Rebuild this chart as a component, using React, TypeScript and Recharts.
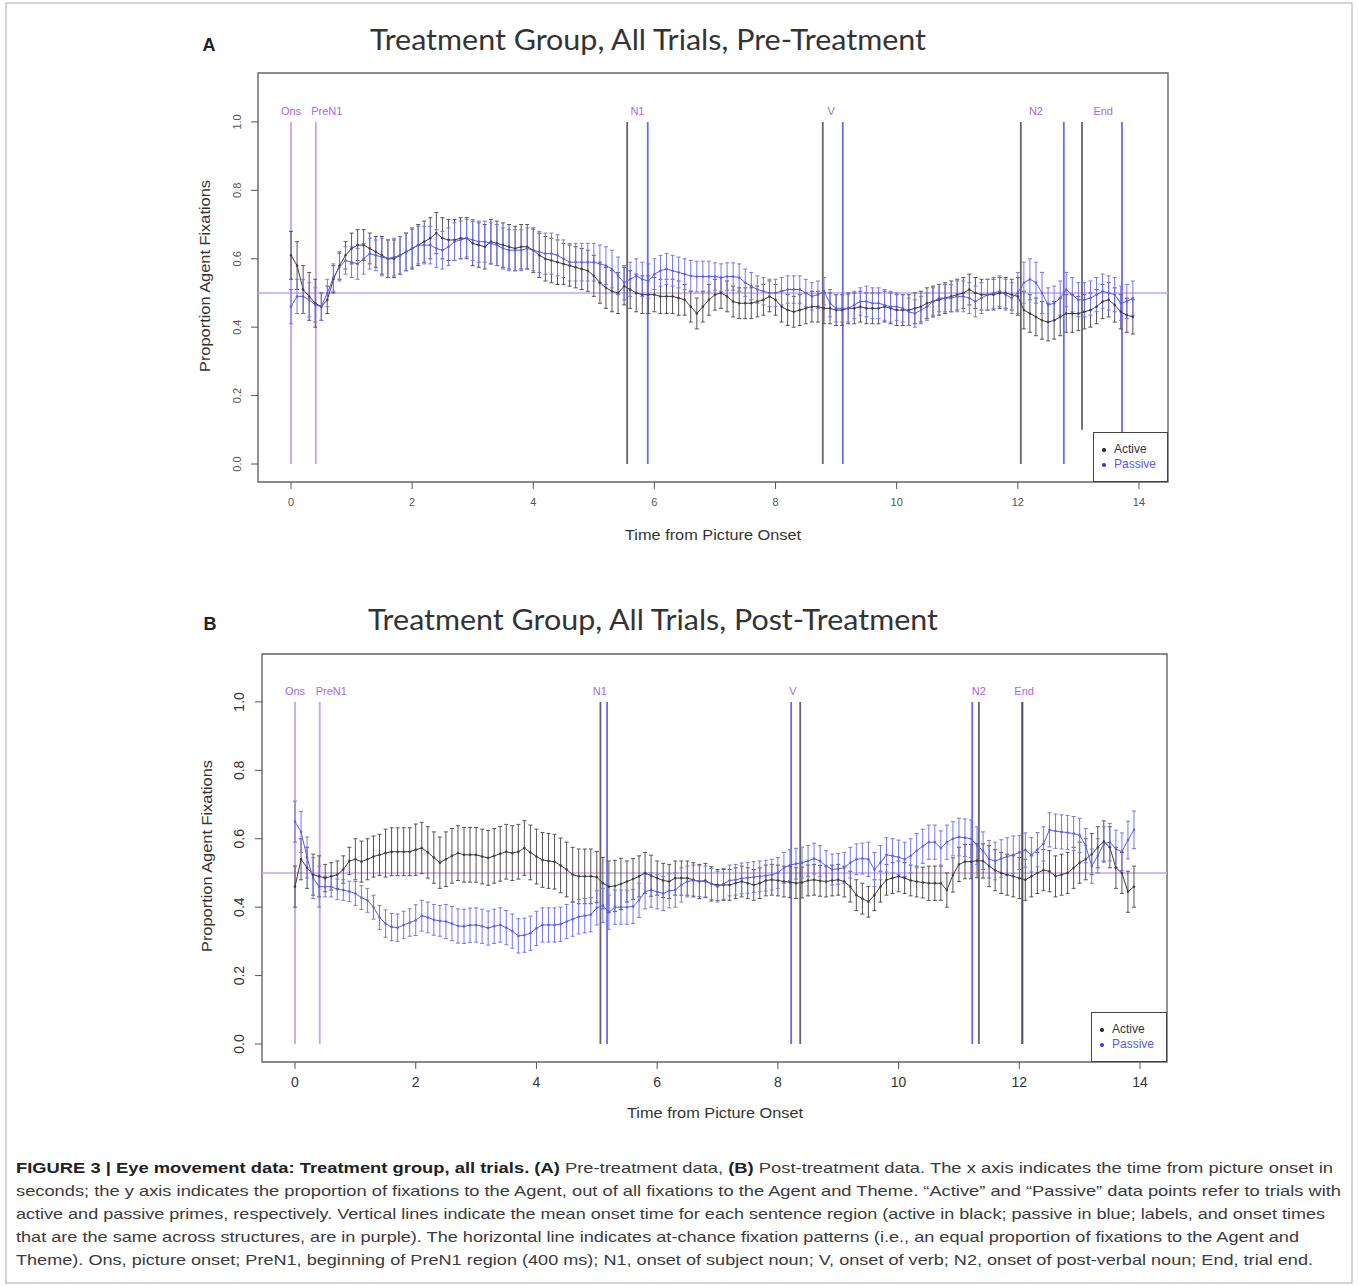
import React from "react";
import {
  LineChart,
  Line,
  XAxis,
  YAxis,
  ErrorBar,
  ReferenceLine,
  ReferenceArea,
  ReferenceDot,
} from "recharts";

// sample times (s from picture onset), 100 ms bins
const times = [
  0, 0.1, 0.2, 0.3, 0.4, 0.5, 0.6, 0.7, 0.8, 0.9,
  1, 1.1, 1.2, 1.3, 1.4, 1.5, 1.6, 1.7, 1.8, 1.9,
  2, 2.1, 2.2, 2.3, 2.4, 2.5, 2.6, 2.7, 2.8, 2.9,
  3, 3.1, 3.2, 3.3, 3.4, 3.5, 3.6, 3.7, 3.8, 3.9,
  4, 4.1, 4.2, 4.3, 4.4, 4.5, 4.6, 4.7, 4.8, 4.9,
  5, 5.1, 5.2, 5.3, 5.4, 5.5, 5.6, 5.7, 5.8, 5.9,
  6, 6.1, 6.2, 6.3, 6.4, 6.5, 6.6, 6.7, 6.8, 6.9,
  7, 7.1, 7.2, 7.3, 7.4, 7.5, 7.6, 7.7, 7.8, 7.9,
  8, 8.1, 8.2, 8.3, 8.4, 8.5, 8.6, 8.7, 8.8, 8.9,
  9, 9.1, 9.2, 9.3, 9.4, 9.5, 9.6, 9.7, 9.8, 9.9,
  10, 10.1, 10.2, 10.3, 10.4, 10.5, 10.6, 10.7, 10.8, 10.9,
  11, 11.1, 11.2, 11.3, 11.4, 11.5, 11.6, 11.7, 11.8, 11.9,
  12, 12.1, 12.2, 12.3, 12.4, 12.5, 12.6, 12.7, 12.8, 12.9,
  13, 13.1, 13.2, 13.3, 13.4, 13.5, 13.6, 13.7, 13.8, 13.9,
];

// panel A, pre-treatment
const preActive = [
  0.61, 0.58, 0.51, 0.49, 0.47, 0.46, 0.48, 0.54, 0.58, 0.61,
  0.63, 0.64, 0.64, 0.63, 0.62, 0.61, 0.6, 0.6, 0.61, 0.62,
  0.63, 0.64, 0.65, 0.66, 0.675, 0.66, 0.655, 0.655, 0.66, 0.66,
  0.645, 0.64, 0.635, 0.65, 0.645, 0.64, 0.635, 0.63, 0.635, 0.635,
  0.625, 0.61, 0.6, 0.595, 0.59, 0.585, 0.58, 0.575, 0.57, 0.565,
  0.55, 0.53, 0.515, 0.505, 0.5, 0.52, 0.51, 0.5, 0.495, 0.495,
  0.495, 0.49, 0.49, 0.49, 0.485, 0.48, 0.46, 0.44, 0.46, 0.48,
  0.495, 0.5, 0.49, 0.475, 0.47, 0.47, 0.47, 0.475, 0.48, 0.49,
  0.48, 0.46, 0.45, 0.445, 0.45, 0.455, 0.46, 0.46, 0.455, 0.455,
  0.45, 0.45, 0.455, 0.455, 0.46, 0.455, 0.455, 0.455, 0.46, 0.455,
  0.45, 0.45, 0.45, 0.455, 0.46, 0.47, 0.475, 0.48, 0.485, 0.49,
  0.495, 0.5, 0.51, 0.5, 0.495, 0.495, 0.495, 0.5, 0.5, 0.495,
  0.49, 0.45, 0.44, 0.43, 0.42, 0.415, 0.42, 0.43, 0.44, 0.44,
  0.44, 0.445, 0.45, 0.46, 0.475, 0.48, 0.465, 0.445, 0.435, 0.43,
];
const prePassive = [
  0.46, 0.49, 0.49, 0.48, 0.465, 0.46, 0.5, 0.545, 0.575, 0.595,
  0.59, 0.585, 0.6, 0.615, 0.61, 0.605, 0.6, 0.605, 0.61, 0.62,
  0.63, 0.64, 0.64, 0.64, 0.63, 0.625, 0.635, 0.65, 0.655, 0.66,
  0.655, 0.65, 0.65, 0.645, 0.64, 0.63, 0.625, 0.625, 0.625, 0.63,
  0.625, 0.62, 0.615, 0.615, 0.61, 0.6, 0.59, 0.59, 0.59, 0.59,
  0.59, 0.585, 0.58, 0.57, 0.55, 0.53, 0.54, 0.55, 0.54, 0.535,
  0.555, 0.565, 0.57, 0.565, 0.56, 0.555, 0.55, 0.548, 0.548, 0.548,
  0.548, 0.545, 0.548, 0.548, 0.545, 0.53, 0.52, 0.51, 0.505, 0.5,
  0.5, 0.505, 0.51, 0.51, 0.51, 0.5, 0.49, 0.495, 0.505, 0.47,
  0.455, 0.455, 0.455, 0.465, 0.475, 0.475, 0.47, 0.47, 0.465, 0.46,
  0.46, 0.455, 0.445, 0.44, 0.45, 0.46, 0.475, 0.485, 0.485, 0.485,
  0.49, 0.49, 0.485, 0.475, 0.485, 0.495, 0.5, 0.505, 0.495, 0.485,
  0.5, 0.53, 0.54, 0.53, 0.5, 0.465, 0.47, 0.485, 0.51, 0.495,
  0.48, 0.48, 0.485, 0.495, 0.505, 0.5, 0.495, 0.47, 0.475, 0.485,
];
// error bar half-widths, one value per 0.5 s window
const preActiveErr = [
  0.07, 0.04, 0.045, 0.055, 0.06, 0.06, 0.065, 0.065, 0.065, 0.06,
  0.06, 0.055, 0.05, 0.045, 0.045, 0.045, 0.045, 0.045, 0.045, 0.045,
  0.045, 0.045, 0.045, 0.045, 0.055, 0.055, 0.05, 0.05,
];
const prePassiveErr = [
  0.05, 0.04, 0.045, 0.055, 0.055, 0.055, 0.06, 0.06, 0.06, 0.055,
  0.055, 0.05, 0.045, 0.045, 0.04, 0.04, 0.04, 0.04, 0.04, 0.045,
  0.04, 0.04, 0.045, 0.045, 0.06, 0.05, 0.05, 0.05,
];

// panel B, post-treatment
const postActive = [
  0.46, 0.54, 0.515, 0.495, 0.49, 0.485, 0.49, 0.495, 0.51, 0.535,
  0.54, 0.533, 0.54, 0.548, 0.553, 0.558, 0.562, 0.562, 0.562, 0.562,
  0.568, 0.573, 0.56, 0.545, 0.53, 0.54, 0.55, 0.558, 0.553, 0.553,
  0.553, 0.548, 0.544, 0.55, 0.556, 0.562, 0.558, 0.562, 0.573, 0.56,
  0.548, 0.538, 0.535, 0.533, 0.522, 0.51, 0.495, 0.49, 0.49, 0.49,
  0.488, 0.47, 0.46, 0.462, 0.468, 0.475, 0.482, 0.49, 0.5, 0.492,
  0.485, 0.478, 0.475, 0.485, 0.485, 0.485, 0.48, 0.475, 0.478, 0.468,
  0.465, 0.465, 0.465, 0.47, 0.475, 0.47, 0.465, 0.47, 0.478, 0.48,
  0.478, 0.475, 0.473, 0.47, 0.472, 0.478, 0.48, 0.477, 0.475, 0.478,
  0.48, 0.475, 0.46, 0.435, 0.425, 0.416, 0.435, 0.46, 0.48, 0.485,
  0.49, 0.485, 0.478, 0.475, 0.472, 0.47, 0.47, 0.47, 0.45, 0.494,
  0.525, 0.533, 0.533, 0.536, 0.535, 0.52, 0.508, 0.5, 0.495, 0.49,
  0.485, 0.48, 0.49, 0.5, 0.508, 0.505, 0.49, 0.495, 0.5, 0.515,
  0.53, 0.54, 0.555, 0.575, 0.592, 0.575, 0.515, 0.5, 0.445, 0.46,
];
const postPassive = [
  0.65, 0.62, 0.545, 0.485, 0.46, 0.46, 0.46, 0.452, 0.45, 0.446,
  0.44, 0.428, 0.42, 0.4, 0.37, 0.352, 0.342, 0.34, 0.348, 0.355,
  0.362, 0.375, 0.37, 0.363, 0.36, 0.358, 0.352, 0.345, 0.344, 0.347,
  0.348, 0.344, 0.339, 0.344, 0.348, 0.34, 0.33, 0.316, 0.318, 0.324,
  0.338, 0.348, 0.348, 0.348, 0.35, 0.358, 0.365, 0.372, 0.375, 0.378,
  0.398, 0.405, 0.385, 0.4, 0.4, 0.4, 0.402, 0.42, 0.445, 0.45,
  0.445, 0.44, 0.448, 0.45, 0.465, 0.475, 0.478, 0.476, 0.475, 0.468,
  0.46, 0.468, 0.478, 0.48, 0.484, 0.486, 0.488, 0.49, 0.492, 0.495,
  0.5, 0.515, 0.523, 0.527, 0.53, 0.535, 0.542, 0.535, 0.52, 0.51,
  0.512, 0.515, 0.53, 0.54, 0.542, 0.54, 0.51, 0.53, 0.553, 0.55,
  0.546, 0.54, 0.55, 0.565, 0.578, 0.59, 0.59, 0.573, 0.59, 0.6,
  0.605, 0.603, 0.6, 0.58, 0.565, 0.54, 0.535, 0.542, 0.548, 0.553,
  0.56, 0.567, 0.553, 0.568, 0.585, 0.626, 0.622, 0.62, 0.618, 0.615,
  0.61, 0.58, 0.52, 0.55, 0.585, 0.59, 0.57, 0.562, 0.596, 0.626,
];
const postActiveErr = [
  0.06, 0.04, 0.06, 0.07, 0.075, 0.08, 0.08, 0.08, 0.08, 0.08,
  0.075, 0.06, 0.05, 0.05, 0.045, 0.045, 0.045, 0.045, 0.045, 0.045,
  0.045, 0.05, 0.05, 0.06, 0.06, 0.06, 0.06, 0.06,
];
const postPassiveErr = [
  0.06, 0.03, 0.035, 0.04, 0.045, 0.05, 0.05, 0.05, 0.05, 0.05,
  0.05, 0.05, 0.05, 0.045, 0.045, 0.045, 0.045, 0.045, 0.045, 0.05,
  0.05, 0.05, 0.055, 0.055, 0.05, 0.05, 0.05, 0.055,
];

// region onsets (s)
const regionNames = ["Ons", "PreN1", "N1", "V", "N2", "End"];
const preSharedOnsets = [0, 0.41];
const preActiveOnsets = [5.55, 8.78, 12.05, 13.06];
const prePassiveOnsets = [5.89, 9.11, 12.76, 13.72];
const preLabelTimes = [0, 0.59, 5.72, 8.92, 12.3, 13.41];
const postSharedOnsets = [0, 0.41];
const postActiveOnsets = [5.06, 8.37, 11.33, 12.05];
const postPassiveOnsets = [5.17, 8.22, 11.22, 12.05];
const postLabelTimes = [0, 0.6, 5.05, 8.25, 11.33, 12.08];

const chance = 0.5;
const xTicks = [0, 2, 4, 6, 8, 10, 12, 14];
const yTicks = [0, 0.2, 0.4, 0.6, 0.8, 1.0];

const captionLines = [
  "seconds; the y axis indicates the proportion of fixations to the Agent, out of all fixations to the Agent and Theme. \u201cActive\u201d and \u201cPassive\u201d data points refer to trials with",
  "active and passive primes, respectively. Vertical lines indicate the mean onset time for each sentence region (active in black; passive in blue; labels, and onset times",
  "that are the same across structures, are in purple). The horizontal line indicates at-chance fixation patterns (i.e., an equal proportion of fixations to the Agent and",
  "Theme). Ons, picture onset; PreN1, beginning of PreN1 region (400 ms); N1, onset of subject noun; V, onset of verb; N2, onset of post-verbal noun; End, trial end.",
];

const PURPLE_LINE = "#c8a2f2";
const PURPLE_TEXT = "#a968e6";
const BLACK = "#3c3c3c";
const BLUE = "#5b5bf2";
const FONT = "'Liberation Sans', Arial, sans-serif";

const panels = [
  {
    key: "A",
    left: 150,
    top: 60,
    margin: { top: 13, right: 22, left: 68, bottom: 28 },
    xDomain: [-0.545, 14.48],
    yDomain: [-0.0526, 1.143],
    active: preActive,
    passive: prePassive,
    activeErr: preActiveErr,
    passiveErr: prePassiveErr,
    shared: preSharedOnsets,
    activeOn: preActiveOnsets,
    passiveOn: prePassiveOnsets,
    labelTimes: preLabelTimes,
    activeLow: [0, 0, 0, 0.1],
    tickSize: 11,
    tickColor: "#555",
    yTickShift: 8,
  },
  {
    key: "B",
    left: 150,
    top: 640,
    margin: { top: 14, right: 23, left: 72, bottom: 28 },
    xDomain: [-0.547, 14.447],
    yDomain: [-0.0526, 1.14],
    active: postActive,
    passive: postPassive,
    activeErr: postActiveErr,
    passiveErr: postPassiveErr,
    shared: postSharedOnsets,
    activeOn: postActiveOnsets,
    passiveOn: postPassiveOnsets,
    labelTimes: postLabelTimes,
    activeLow: [0, 0, 0, 0],
    tickSize: 14,
    tickColor: "#333",
    yTickShift: 9,
  },
];

function Panel({ p }: { p: any }) {
  const rows = times.map((t, i) => ({
    t,
    act: p.active[i],
    actErr: p.activeErr[Math.floor(i / 5)],
    pas: p.passive[i],
    pasErr: p.passiveErr[Math.floor(i / 5)],
  }));

  const xTick = (props: any) => (
    <text
      x={props.x}
      y={props.y + (p.tickSize > 12 ? 16 : 15)}
      textAnchor="middle"
      fontSize={p.tickSize}
      fontFamily={FONT}
      fill={p.tickColor}
    >
      {props.payload.value}
    </text>
  );
  const yTick = (props: any) => {
    const cx = props.x - p.yTickShift;
    return (
      <text
        x={cx}
        y={props.y}
        transform={`rotate(-90 ${cx} ${props.y})`}
        textAnchor="middle"
        fontSize={p.tickSize}
        fontFamily={FONT}
        fill={p.tickColor}
      >
        {Number(props.payload.value).toFixed(1)}
      </text>
    );
  };

  return (
    <div style={{ position: "absolute", left: p.left, top: p.top }}>
      <LineChart width={1040} height={480} data={rows} margin={p.margin}>
        <XAxis
          type="number"
          dataKey="t"
          domain={p.xDomain}
          ticks={xTicks}
          interval={0}
          allowDataOverflow
          axisLine={false}
          tickSize={7}
          tickLine={{ stroke: "#555" }}
          height={30}
          tick={xTick}
        />
        <YAxis
          type="number"
          domain={p.yDomain}
          ticks={yTicks}
          interval={0}
          allowDataOverflow
          axisLine={false}
          tickSize={7}
          tickLine={{ stroke: "#555" }}
          width={40}
          tick={yTick}
        />
        <ReferenceLine y={chance} stroke={PURPLE_LINE} strokeWidth={1.5} />
        {p.shared.map((t: number, i: number) => (
          <ReferenceLine
            key={"s" + i}
            segment={[{ x: t, y: 0 }, { x: t, y: 1 }]}
            stroke={PURPLE_LINE}
            strokeWidth={1.8}
          />
        ))}
        {p.passiveOn.map((t: number, i: number) => (
          <ReferenceLine
            key={"p" + i}
            segment={[{ x: t, y: 0 }, { x: t, y: 1 }]}
            stroke="#6a6af0"
            strokeWidth={1.8}
          />
        ))}
        {p.activeOn.map((t: number, i: number) => (
          <ReferenceLine
            key={"a" + i}
            segment={[{ x: t, y: p.activeLow[i] }, { x: t, y: 1 }]}
            stroke="#4a4a4a"
            strokeOpacity={0.85}
            strokeWidth={1.8}
          />
        ))}
        <Line
          dataKey="act"
          type="linear"
          stroke={BLACK}
          strokeWidth={1}
          dot={{ r: 1, fill: BLACK, stroke: BLACK, strokeWidth: 0.6 }}
          isAnimationActive={false}
        >
          <ErrorBar dataKey="actErr" direction="y" width={2} stroke="#555" strokeWidth={1} isAnimationActive={false} />
        </Line>
        <Line
          dataKey="pas"
          type="linear"
          stroke={BLUE}
          strokeWidth={1}
          dot={{ r: 1, fill: BLUE, stroke: BLUE, strokeWidth: 0.6 }}
          isAnimationActive={false}
        >
          <ErrorBar dataKey="pasErr" direction="y" width={2} stroke="#7676f2" strokeWidth={1} isAnimationActive={false} />
        </Line>
        {regionNames.map((name, i) => (
          <ReferenceDot
            key={"l" + i}
            x={p.labelTimes[i]}
            y={1.032}
            r={0}
            shape={(s: any) => (
              <text
                x={s.cx}
                y={s.cy + 4}
                textAnchor="middle"
                fontSize={11}
                fontFamily={FONT}
                fill={PURPLE_TEXT}
              >
                {name}
              </text>
            )}
          />
        ))}
        <ReferenceArea
          x1={p.xDomain[0]}
          x2={p.xDomain[1]}
          y1={p.yDomain[0]}
          y2={p.yDomain[1]}
          fill="none"
          stroke="#666"
          strokeWidth={1.4}
        />
      </LineChart>
    </div>
  );
}

function LegendBox({ left, top, width, height }: any) {
  const dot = (c: string) => (
    <span
      style={{
        display: "inline-block",
        width: 4,
        height: 4,
        borderRadius: 2,
        background: c,
        marginRight: 8,
        verticalAlign: "middle",
      }}
    />
  );
  return (
    <div
      style={{
        position: "absolute",
        left,
        top,
        width,
        height,
        boxSizing: "border-box",
        border: "1px solid #444",
        background: "#fff",
        fontFamily: FONT,
        fontSize: 12,
        lineHeight: "15px",
        paddingTop: 9,
        paddingLeft: 8,
      }}
    >
      <div style={{ color: "#333" }}>
        {dot("#222")}Active
      </div>
      <div style={{ color: BLUE }}>
        {dot("#3535e8")}Passive
      </div>
    </div>
  );
}

export default function App() {
  return (
    <div
      style={{
        position: "absolute",
        left: 0,
        top: 0,
        width: 1358,
        height: 1286,
        background: "#fff",
        overflow: "hidden",
      }}
    >
      {panels.map((p) => (
        <Panel key={p.key} p={p} />
      ))}
      <LegendBox left={1093} top={432} width={75} height={50} />
      <LegendBox left={1091} top={1012} width={76} height={50} />
      <svg
        width={1358}
        height={1286}
        style={{ position: "absolute", left: 0, top: 0, pointerEvents: "none" }}
      >
        <rect x={6} y={3} width={1346} height={1280} fill="none" stroke="#aaa" strokeWidth={1} />
        {/* panel A text */}
        <text x={209} y={51} textAnchor="middle" fontSize={18} fontWeight="bold" fontFamily={FONT} fill="#222">A</text>
        <text x={370} y={50} textLength={556} lengthAdjust="spacingAndGlyphs" fontSize={28} fontFamily="Lato, 'Open Sans', sans-serif" fill="#333">
          Treatment Group, All Trials, Pre-Treatment
        </text>
        <text x={625} y={540} textLength={176} lengthAdjust="spacingAndGlyphs" fontSize={14} fontFamily={FONT} fill="#333">
          Time from Picture Onset
        </text>
        <text x={210} y={276} transform="rotate(-90 210 276)" textAnchor="middle" textLength={192} lengthAdjust="spacingAndGlyphs" fontSize={14} fontFamily={FONT} fill="#333">
          Proportion Agent Fixations
        </text>
        {/* panel B text */}
        <text x={210} y={630} textAnchor="middle" fontSize={18} fontWeight="bold" fontFamily={FONT} fill="#222">B</text>
        <text x={368} y={630} textLength={570} lengthAdjust="spacingAndGlyphs" fontSize={28} fontFamily="Lato, 'Open Sans', sans-serif" fill="#333">
          Treatment Group, All Trials, Post-Treatment
        </text>
        <text x={627} y={1118} textLength={176} lengthAdjust="spacingAndGlyphs" fontSize={14} fontFamily={FONT} fill="#333">
          Time from Picture Onset
        </text>
        <text x={212} y={856} transform="rotate(-90 212 856)" textAnchor="middle" textLength={192} lengthAdjust="spacingAndGlyphs" fontSize={14} fontFamily={FONT} fill="#333">
          Proportion Agent Fixations
        </text>
        {/* caption */}
        <text x={16} y={1173} textLength={1317} lengthAdjust="spacingAndGlyphs" fontSize={15} fontFamily={FONT} fill="#3a3a3a">
          <tspan fontWeight="bold" fill="#222">FIGURE 3 | Eye movement data: Treatment group, all trials. (A)</tspan>
          <tspan> Pre-treatment data, </tspan>
          <tspan fontWeight="bold" fill="#222">(B)</tspan>
          <tspan> Post-treatment data. The x axis indicates the time from picture onset in</tspan>
        </text>
        {captionLines.map((line, i) => (
          <text
            key={i}
            x={16}
            y={1196 + i * 23}
            textLength={[1325, 1309, 1283, 1297][i]}
            lengthAdjust="spacingAndGlyphs"
            fontSize={15}
            fontFamily={FONT}
            fill="#3a3a3a"
          >
            {line}
          </text>
        ))}
      </svg>
    </div>
  );
}
